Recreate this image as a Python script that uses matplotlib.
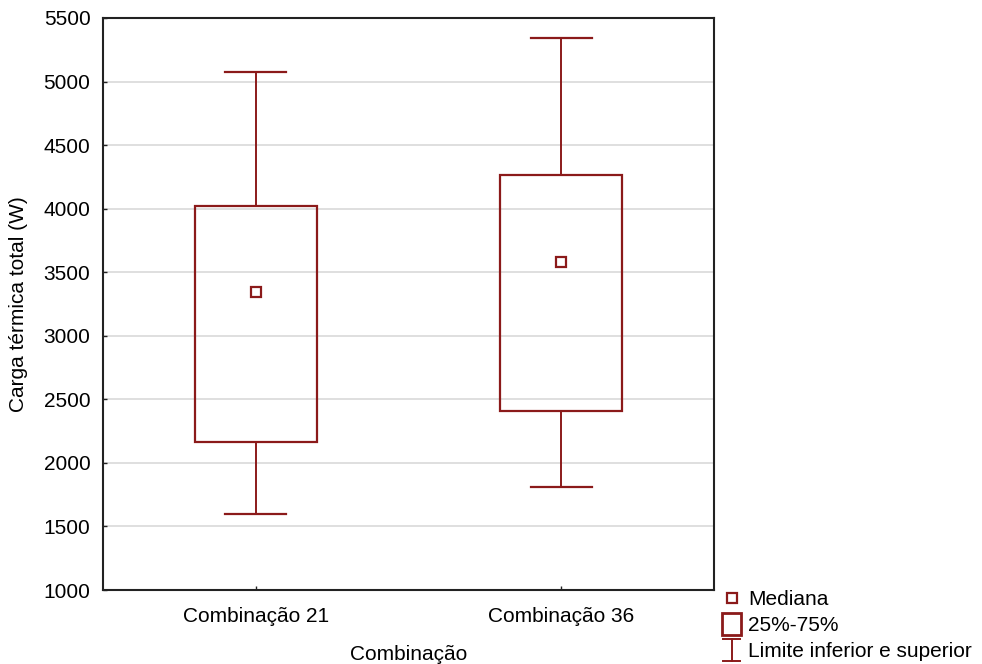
import matplotlib
matplotlib.use("Agg")
import matplotlib.pyplot as plt
from matplotlib.lines import Line2D
from matplotlib.legend_handler import HandlerBase
from matplotlib.patches import Rectangle

plt.rcParams['font.family'] = ['Liberation Sans', 'DejaVu Sans']

categories = ["Combinação 21", "Combinação 36"]
minimo = [1598, 1810]
q1 = [2164, 2408]
mediana = [3344, 3580]
q3 = [4021, 4265]
maximo = [5075, 5343]
yticks = [1000, 1500, 2000, 2500, 3000, 3500, 4000, 4500, 5000, 5500]

cor = "#8B1A1A"
fs = 15

fig = plt.figure(figsize=(9.82, 6.64), dpi=100)
ax = fig.add_axes([103/982, 1 - 590/664, (714-103)/982, (590-18)/664])

box_w = 0.4
cap_w = 0.2
for i, cat in enumerate(categories):
    ax.add_patch(Rectangle((i - box_w/2, q1[i]), box_w, q3[i] - q1[i],
                           fill=False, edgecolor=cor, lw=1.6, zorder=3))
    ax.plot([i, i], [q3[i], maximo[i]], color=cor, lw=1.4, zorder=3)
    ax.plot([i, i], [minimo[i], q1[i]], color=cor, lw=1.4, zorder=3)
    ax.plot([i - cap_w/2, i + cap_w/2], [maximo[i], maximo[i]], color=cor, lw=1.6, zorder=3)
    ax.plot([i - cap_w/2, i + cap_w/2], [minimo[i], minimo[i]], color=cor, lw=1.6, zorder=3)
    ax.plot(i, mediana[i], marker='s', ms=7, mfc='white', mec=cor, mew=1.6, zorder=4)

ax.set_xlim(-0.5, 1.5)
ax.set_ylim(1000, 5500)
ax.set_xticks(range(len(categories)))
ax.set_xticklabels(categories)
ax.set_yticks(yticks)
ax.yaxis.grid(True, color='#d9d9d9', lw=1.2)
ax.set_axisbelow(True)
ax.tick_params(direction='in', length=3, labelsize=fs, width=1, colors='#222222',
               labelcolor='black')
ax.tick_params(axis='y', pad=9)
ax.tick_params(axis='x', pad=12)
for s in ax.spines.values():
    s.set_linewidth(1.5)
    s.set_color('#222222')
ax.set_xlabel("Combinação", fontsize=fs, labelpad=14)
ax.set_ylabel("Carga térmica total (W)", fontsize=fs, labelpad=11)


class WhiskerHandler(HandlerBase):
    def create_artists(self, legend, orig_handle, xdescent, ydescent, width, height, fontsize, trans):
        cx = width / 2 - xdescent
        top = height + 2
        bot = -3
        hw = 6
        lines = [
            Line2D([cx, cx], [bot, top]),
            Line2D([cx - hw, cx + hw], [top, top]),
            Line2D([cx - hw, cx + hw], [bot, bot]),
        ]
        for ln in lines:
            ln.set_color(cor)
            ln.set_linewidth(1.4)
            ln.set_transform(trans)
        return lines


class BoxHandler(HandlerBase):
    def create_artists(self, legend, orig_handle, xdescent, ydescent, width, height, fontsize, trans):
        w = 14
        h = 16
        cx = width / 2 - xdescent
        r = Rectangle((cx - w/2, height/2 - h/2 - ydescent), w, h,
                      fill=False, edgecolor=cor, lw=2)
        r.set_transform(trans)
        return [r]


h_med = Line2D([], [], ls='none', marker='s', ms=7, mfc='white', mec=cor, mew=1.6)
h_box = object()
h_wh = object()

leg = fig.legend([h_med, h_box, h_wh],
                 ["Mediana", "25%-75%", "Limite inferior e superior"],
                 handler_map={h_box: BoxHandler(), h_wh: WhiskerHandler()},
                 loc='upper left', bbox_to_anchor=(718/982, 1 - 588/664),
                 frameon=False, fontsize=fs, handlelength=1.1, handletextpad=0.25,
                 labelspacing=0.33, borderaxespad=0, borderpad=0.1)

fig.savefig("out.png", dpi=100)
